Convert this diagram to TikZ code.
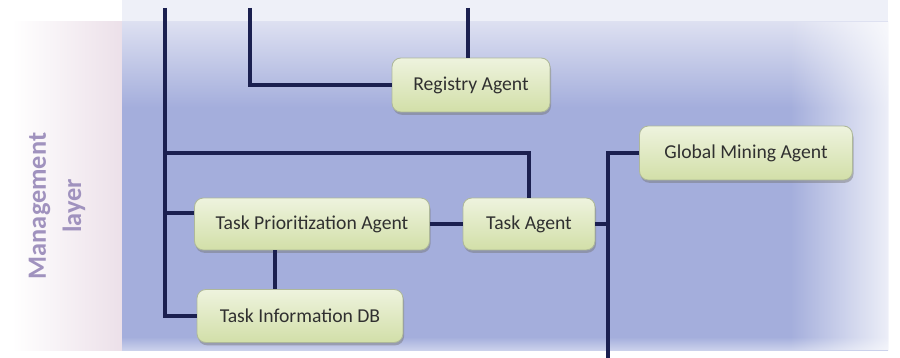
\documentclass[tikz,border=0pt]{standalone}
\usepackage{fontspec}
\setmainfont{Carlito}
\usetikzlibrary{shadows,fadings}

\definecolor{wire}{HTML}{1B2050}
\definecolor{boxtop}{HTML}{EEF3DE}
\definecolor{boxbot}{HTML}{D2DFA8}
\definecolor{boxline}{HTML}{AEB89A}
\definecolor{labelcol}{HTML}{A092BE}
\definecolor{txt}{HTML}{303030}
\definecolor{pbot}{HTML}{CBD1EB}
\definecolor{pmid}{HTML}{A4AEDC}
\definecolor{ptop}{HTML}{DDE0F1}
\definecolor{stripcol}{HTML}{EEF0F8}
\definecolor{sidepink}{HTML}{ECE0E9}

% vertical colour ramp of the blue panel (bottom to top);
% TikZ fits the path into the band 25bp..75bp
\pgfdeclareverticalshading{panelv}{100bp}{%
  color(0bp)=(pbot); color(25bp)=(pbot); color(27bp)=(pmid);
  color(62bp)=(pmid); color(75bp)=(ptop); color(100bp)=(ptop)}
\tikzfading[name=faderight, left color=transparent!100, right color=transparent!20]

\tikzset{
  agent/.style={draw=boxline, line width=0.5pt, rounded corners=5pt,
    top color=boxtop, bottom color=boxbot, text=txt, font=\fontsize{11.2}{13}\selectfont,
    align=center, inner sep=0pt,
    drop shadow={shadow xshift=0.6pt, shadow yshift=-1.6pt, fill=black!55, opacity=0.45}},
  link/.style={draw=wire, line width=2.1pt},
}

\begin{document}
\begin{tikzpicture}[x=0.02cm, y=-0.02cm]
\useasboundingbox (0,0) rectangle (900,358);

% backgrounds
\fill[stripcol] (122,0) rectangle (888,22);
\shade[left color=white, right color=sidepink] (12,22) rectangle (122,350);
\shade[shading=panelv] (122,22) rectangle (888,350);
\fill[white, path fading=faderight] (790,22) rectangle (888,350);

% layer title
\node[rotate=90, text=labelcol, font=\bfseries\fontsize{15}{20}\selectfont, align=center]
  (layer) at (57,206) {Management\\layer};

% agents
\node[agent, minimum width=3.16cm, minimum height=1.08cm] (reg)  at (471,85)  {Registry Agent};
\node[agent, minimum width=4.26cm, minimum height=1.08cm] (gma)  at (746,153) {Global Mining Agent};
\node[agent, minimum width=4.70cm, minimum height=1.04cm] (tpa)  at (312,224) {Task Prioritization Agent};
\node[agent, minimum width=2.64cm, minimum height=1.04cm] (ta)   at (529,224) {Task Agent};
\node[agent, minimum width=4.12cm, minimum height=1.06cm] (tidb) at (300,316) {Task Information DB};

% free ends of the connectors
\coordinate (bus)  at (165,8);
\coordinate (regtop) at (250,8);
\coordinate (regin) at (468,8);
\coordinate (tajoin) at (165,153);
\coordinate (down) at (608,358);
\coordinate (tpain) at ([yshift=0.22cm]tpa.west);
\coordinate (dbdrop) at ([xshift=-0.74cm]tpa.south);

% connectors
\draw[link] (bus) |- (tidb.west);
\draw[link] (regtop) |- (reg.west);
\draw[link] (regin) -- (regin |- reg.north);
\draw[link] (tajoin) -| (ta.north);
\draw[link] (bus |- tpain) -- (tpain);
\draw[link] (tpa.east) -- (ta.west);
\draw[link] (ta.east) -- (down |- ta.east);
\draw[link] (gma.west) -| (down);
\draw[link] (dbdrop) -- (dbdrop |- tidb.north);
\end{tikzpicture}
\end{document}
